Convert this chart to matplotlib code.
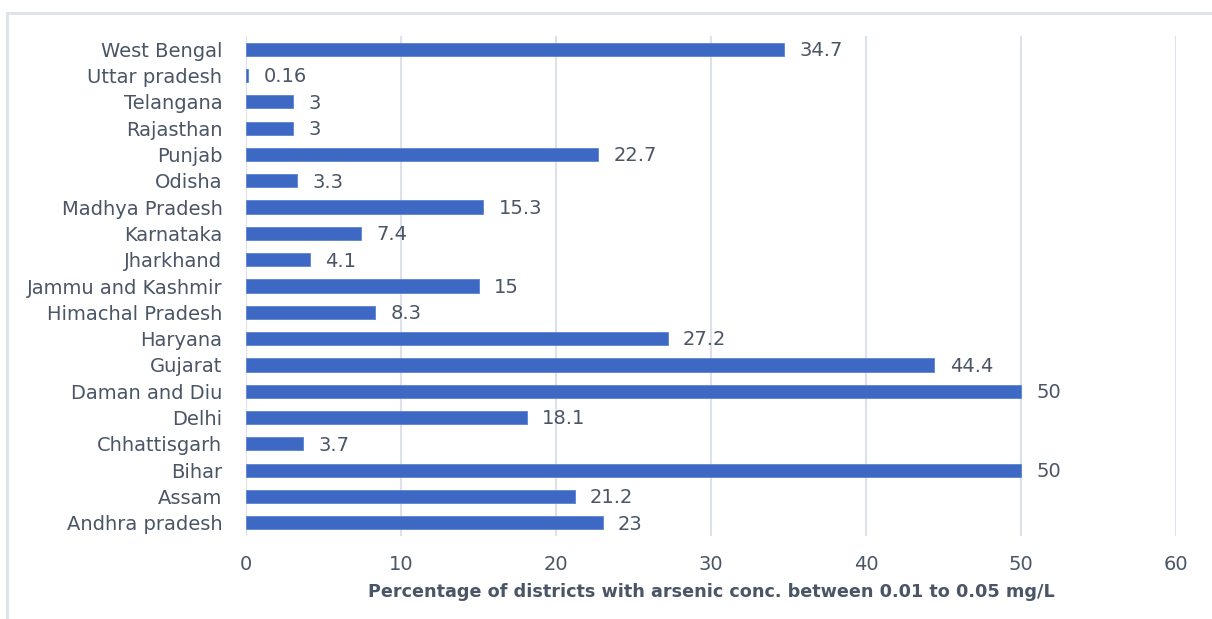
import matplotlib
matplotlib.use("Agg")
import matplotlib.pyplot as plt
from matplotlib.lines import Line2D

states = ["Andhra pradesh", "Assam", "Bihar", "Chhattisgarh", "Delhi", "Daman and Diu",
          "Gujarat", "Haryana", "Himachal Pradesh", "Jammu and Kashmir", "Jharkhand",
          "Karnataka", "Madhya Pradesh", "Odisha", "Punjab", "Rajasthan", "Telangana",
          "Uttar pradesh", "West Bengal"]
values = [23, 21.2, 50, 3.7, 18.1, 50, 44.4, 27.2, 8.3, 15, 4.1, 7.4, 15.3, 3.3, 22.7,
          3, 3, 0.16, 34.7]
value_labels = ["23", "21.2", "50", "3.7", "18.1", "50", "44.4", "27.2", "8.3", "15", "4.1",
                "7.4", "15.3", "3.3", "22.7", "3", "3", "0.16", "34.7"]
xticks = [0, 10, 20, 30, 40, 50, 60]
xlabel = "Percentage of districts with arsenic conc. between 0.01 to 0.05 mg/L"

plt.rcParams['font.family'] = ['DejaVu Sans']
text_color = '#4a5566'

fig = plt.figure(figsize=(12.12, 6.19), dpi=100)
ax = fig.add_axes([246/1212, 1-536/619, (1176-246)/1212, (536-36)/619])

ypos = list(range(len(states)))
ax.barh(ypos, values, height=0.5, color='#3d69c4', edgecolor='#5b84d4', linewidth=0.6, zorder=3)

for y, v, lab in zip(ypos, values, value_labels):
    ax.text(v + 1.0, y - 0.05, lab, va='center', ha='left', fontsize=14, color=text_color)

ax.set_xlim(0, 60)
ax.set_ylim(-0.5, len(states) - 0.5)
ax.set_xticks(xticks)
ax.set_xticklabels([str(t) for t in xticks])
ax.set_yticks(ypos)
ax.set_yticklabels(states)
ax.tick_params(axis='both', length=0, labelsize=14, colors=text_color)
ax.tick_params(axis='x', pad=14)
ax.tick_params(axis='y', pad=17)
ax.grid(axis='x', color='#dde2ea', linewidth=1.5, zorder=0)
for s in ax.spines.values():
    s.set_visible(False)
ax.set_xlabel(xlabel, fontsize=12.7, fontweight='bold', color=text_color, labelpad=6)

# chart border
fig.add_artist(Line2D([7/1212, 7/1212], [0, 1-13/619], transform=fig.transFigure,
                      color='#dde2ea', linewidth=2))
fig.add_artist(Line2D([7/1212, 1], [1-13/619, 1-13/619], transform=fig.transFigure,
                      color='#dde2ea', linewidth=2))

fig.savefig("out.png", dpi=100, facecolor='white')
